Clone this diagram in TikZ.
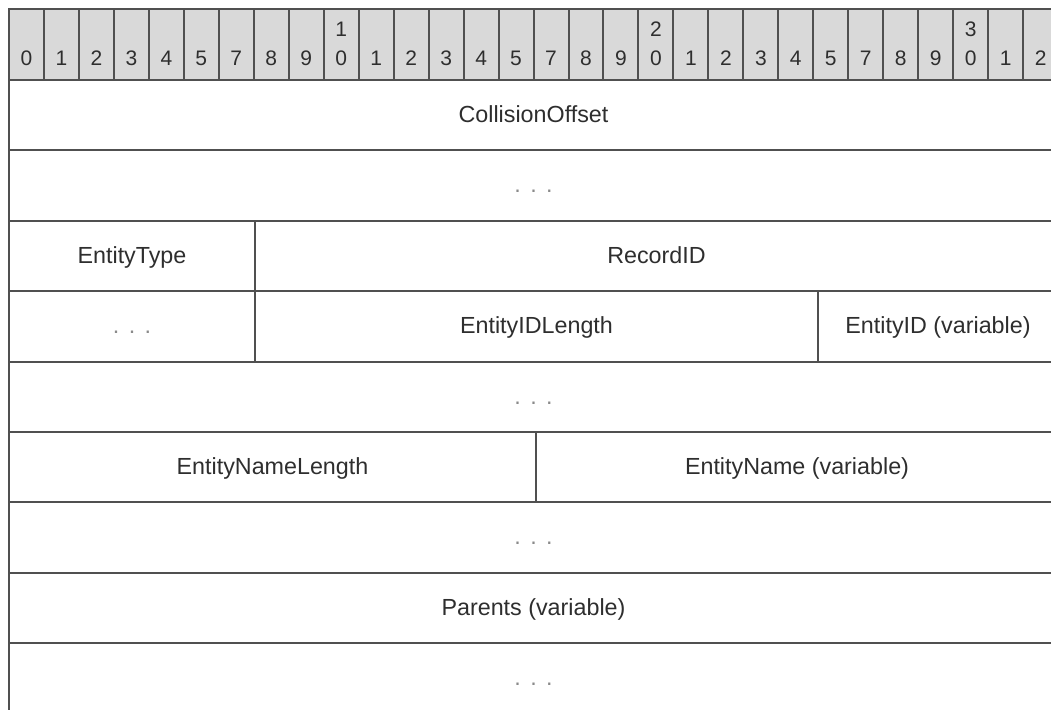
\documentclass[tikz,border=0pt]{standalone}
\usepackage{fontspec}
\setmainfont{Liberation Sans}
\definecolor{linec}{HTML}{505050}
\definecolor{textc}{HTML}{2E2E2E}
\definecolor{dotc}{HTML}{8A8A8A}
\definecolor{hdrfill}{HTML}{D9D9D9}
\tikzset{
  field/.style={draw=linec, line width=2pt, inner sep=0pt, minimum height=70.4pt,
    text height=16.7pt, text depth=2pt, text=textc,
    font=\fontsize{23.3}{28}\selectfont},
  dotsbox/.style={field, text=dotc},
  hdrcell/.style={draw=linec, fill=hdrfill, line width=2pt, inner sep=0pt,
    minimum width=34.97pt, minimum height=71pt},
  digit/.style={inner sep=0pt, text=textc, font=\fontsize{21}{25}\selectfont, anchor=base}
}
\newcommand{\fielddots}{.\hspace{9.5pt}.\hspace{9.5pt}.}
\begin{document}
\begin{tikzpicture}[x=1pt,y=-1pt]
\useasboundingbox (0,0) rectangle (1051,709);
\clip (0,0) rectangle (1051,709);
% header row
\foreach \b [count=\i from 0] in {0,1,2,3,4,5,7,8,9,0,1,2,3,4,5,7,8,9,0,1,2,3,4,5,7,8,9,0,1,2} {
  \pgfmathsetmacro{\cx}{9+34.97*\i+17.485}
  \node[hdrcell] (h\i) at (\cx,44.5) {};
  \node[digit] (d\i) at (\cx,66) {\b};
}
\node[digit] (t1) at (h9.center |- 0,37) {1};
\node[digit] (t2) at (h18.center |- 0,37) {2};
\node[digit] (t3) at (h27.center |- 0,37) {3};
% row 0
\node[field, minimum width=1049pt] (coll) at (533.5,115.2) {CollisionOffset};
% row 1
\node[dotsbox, minimum width=1049pt] (dotsA) at (533.5,185.6) {\fielddots};
% row 2
\node[field, minimum width=246pt] (etype) at (132,256.0) {EntityType};
\node[field, minimum width=803pt] (recid) at (656.5,256.0) {RecordID};
% row 3
\node[dotsbox, minimum width=246pt] (dotsB) at (132,326.4) {\fielddots};
\node[field, minimum width=563pt] (eidlen) at (536.5,326.4) {EntityIDLength};
\node[field, minimum width=240pt] (eid) at (938,326.4) {EntityID (variable)};
% row 4
\node[dotsbox, minimum width=1049pt] (dotsC) at (533.5,396.8) {\fielddots};
% row 5
\node[field, minimum width=527pt] (enamelen) at (272.5,467.2) {EntityNameLength};
\node[field, minimum width=522pt] (ename) at (797,467.2) {EntityName (variable)};
% row 6
\node[dotsbox, minimum width=1049pt] (dotsD) at (533.5,537.6) {\fielddots};
% row 7
\node[field, minimum width=1049pt] (parents) at (533.5,608.0) {Parents (variable)};
% row 8
\node[dotsbox, minimum width=1049pt] (dotsE) at (533.5,678.4) {\fielddots};
\end{tikzpicture}
\end{document}
